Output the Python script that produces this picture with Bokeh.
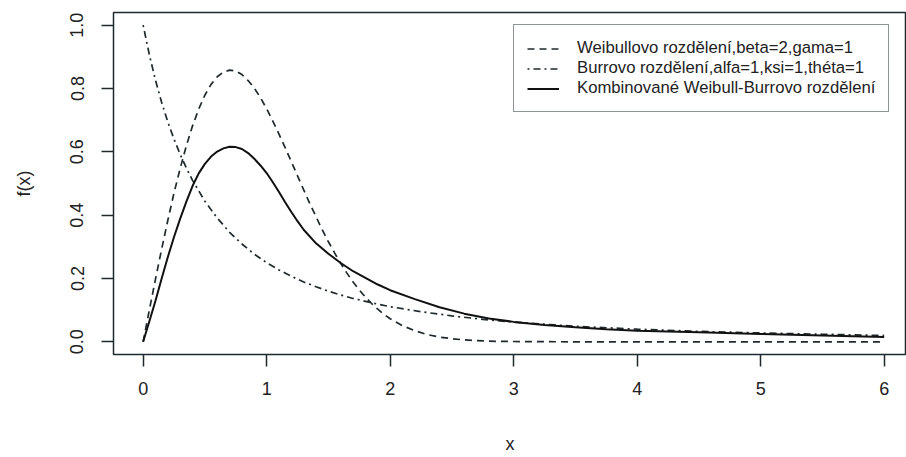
from bokeh.plotting import figure
from bokeh.models import Range1d, FixedTicker, PrintfTickFormatter, Legend, LegendItem
from bokeh.embed import file_html
from bokeh.resources import INLINE

# Weibull density (beta=2, gama=1)
x_weibull = [0.0, 0.05, 0.1, 0.15, 0.2, 0.25, 0.3, 0.35, 0.4, 0.45, 0.5, 0.55, 0.6, 0.65,
             0.7, 0.75, 0.8, 0.85, 0.9, 0.95, 1.0, 1.05, 1.1, 1.15, 1.2, 1.25, 1.3, 1.35,
             1.4, 1.45, 1.5, 1.55, 1.6, 1.65, 1.7, 1.75, 1.8, 1.85, 1.9, 1.95, 2.0, 2.1,
             2.2, 2.3, 2.4, 2.5, 2.6, 2.8, 3.0, 3.5, 4.0, 5.0, 6.0]
y_weibull = [0.0, 0.100, 0.198, 0.293, 0.384, 0.470, 0.548, 0.619, 0.682, 0.735, 0.779,
             0.813, 0.837, 0.852, 0.858, 0.855, 0.844, 0.825, 0.801, 0.771, 0.736, 0.697,
             0.656, 0.613, 0.569, 0.524, 0.480, 0.436, 0.395, 0.354, 0.316, 0.281, 0.247,
             0.217, 0.189, 0.164, 0.141, 0.121, 0.103, 0.087, 0.073, 0.051, 0.035, 0.023,
             0.015, 0.010, 0.006, 0.002, 0.001, 0.0, 0.0, 0.0, 0.0]

# Burr density (alfa=1, ksi=1, theta=1)
x_burr = [0.0, 0.05, 0.1, 0.15, 0.2, 0.25, 0.3, 0.35, 0.4, 0.5, 0.6, 0.7, 0.8, 0.9, 1.0,
          1.1, 1.2, 1.3, 1.4, 1.5, 1.6, 1.7, 1.8, 1.9, 2.0, 2.25, 2.5, 2.75, 3.0, 3.5, 4.0,
          4.5, 5.0, 5.5, 6.0]
y_burr = [1.0, 0.907, 0.826, 0.756, 0.694, 0.640, 0.592, 0.549, 0.510, 0.444, 0.391,
          0.346, 0.309, 0.277, 0.250, 0.227, 0.207, 0.189, 0.174, 0.160, 0.148, 0.137,
          0.128, 0.119, 0.111, 0.095, 0.082, 0.071, 0.0625, 0.049, 0.040, 0.033, 0.028,
          0.024, 0.020]

# Combined Weibull-Burr density
x_comb = [0.0, 0.05, 0.1, 0.15, 0.2, 0.25, 0.3, 0.35, 0.4, 0.45, 0.5, 0.55, 0.6, 0.65,
          0.7, 0.75, 0.8, 0.85, 0.9, 0.95, 1.0, 1.05, 1.1, 1.15, 1.2, 1.25, 1.3, 1.4, 1.5,
          1.6, 1.7, 1.8, 1.9, 2.0, 2.2, 2.4, 2.6, 2.8, 3.0, 3.25, 3.5, 3.75, 4.0, 4.5,
          5.0, 5.5, 6.0]
y_comb = [0.0, 0.064, 0.130, 0.200, 0.268, 0.331, 0.389, 0.443, 0.492, 0.532, 0.562,
          0.585, 0.601, 0.611, 0.616, 0.615, 0.609, 0.596, 0.578, 0.557, 0.533, 0.504,
          0.473, 0.441, 0.410, 0.381, 0.354, 0.311, 0.278, 0.249, 0.223, 0.202, 0.181,
          0.163, 0.135, 0.109, 0.089, 0.074, 0.063, 0.053, 0.046, 0.040, 0.035, 0.030,
          0.025, 0.020, 0.015]

x_ticks = [0, 1, 2, 3, 4, 5, 6]
y_ticks = [0.0, 0.2, 0.4, 0.6, 0.8, 1.0]

labels = ["Weibullovo rozdělení,beta=2,gama=1",
          "Burrovo rozdělení,alfa=1,ksi=1,théta=1",
          "Kombinované Weibull-Burrovo rozdělení"]

FONT = "Liberation Sans"
INK = "#1e2a2e"

p = figure(width=906, height=457, output_backend="svg", toolbar_location=None,
           x_range=Range1d(-0.24, 6.181), y_range=Range1d(-0.04, 1.04),
           min_border_left=113, min_border_right=0, min_border_top=12,
           min_border_bottom=103)
p.outline_line_color = INK
p.outline_line_width = 1.5
p.xgrid.grid_line_color = None
p.ygrid.grid_line_color = None
p.background_fill_color = "white"
p.border_fill_color = "white"

for ax in (p.xaxis[0], p.yaxis[0]):
    ax.axis_line_color = None
    ax.major_tick_line_color = INK
    ax.major_tick_line_width = 1.5
    ax.major_tick_out = 12
    ax.major_tick_in = 0
    ax.minor_tick_line_color = None
    ax.major_label_text_font = FONT
    ax.major_label_text_font_size = "18px"
    ax.major_label_text_color = "#222222"
    ax.axis_label_text_font = FONT
    ax.axis_label_text_font_size = "18px"
    ax.axis_label_text_font_style = "normal"
    ax.axis_label_text_color = "#222222"

p.xaxis.ticker = FixedTicker(ticks=x_ticks)
p.yaxis.ticker = FixedTicker(ticks=y_ticks)
p.yaxis.formatter = PrintfTickFormatter(format="%.1f")
p.yaxis.major_label_orientation = "vertical"
p.xaxis.major_label_standoff = 15
p.yaxis.major_label_standoff = 18
p.xaxis.axis_label = "x"
p.yaxis.axis_label = "f(x)"
p.xaxis.axis_label_standoff = 36
p.yaxis.axis_label_standoff = 34

r1 = p.line(x_weibull, y_weibull, line_color=INK, line_width=1.7, line_dash="7 5")
r2 = p.line(x_burr, y_burr, line_color=INK, line_width=1.7, line_dash="2 4 7 4")
r3 = p.line(x_comb, y_comb, line_color="#111111", line_width=2.0)

legend = Legend(items=[LegendItem(label=labels[0], renderers=[r1]),
                       LegendItem(label=labels[1], renderers=[r2]),
                       LegendItem(label=labels[2], renderers=[r3])],
                location=(400, 242))
legend.label_text_font = FONT
legend.label_text_font_size = "16.7px"
legend.label_text_color = "#222222"
legend.label_height = 19
legend.glyph_height = 19
legend.glyph_width = 32
legend.spacing = -1
legend.padding = 13
legend.margin = 0
legend.label_standoff = 18
legend.border_line_color = INK
legend.border_line_width = 1.5
legend.background_fill_alpha = 1.0
p.add_layout(legend)

open("out.html", "w").write(file_html(p, INLINE))
